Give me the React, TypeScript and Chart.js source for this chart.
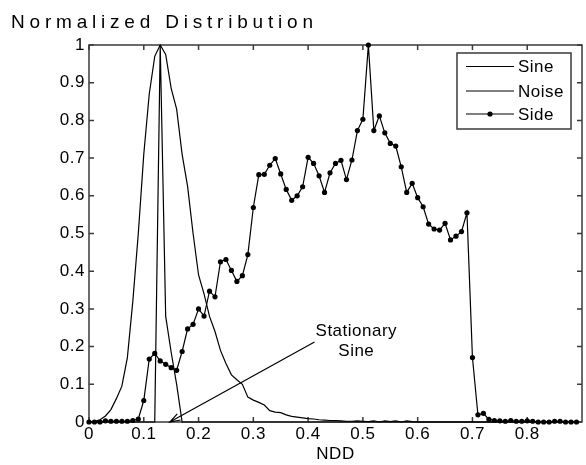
import React, { useEffect, useRef } from 'react';
import { Chart, registerables } from 'chart.js';

Chart.register(...registerables);

// ---------- data ----------
const nddValues = [
  0.00, 0.01, 0.02, 0.03, 0.04, 0.05, 0.06, 0.07, 0.08, 0.09,
  0.10, 0.11, 0.12, 0.13, 0.14, 0.15, 0.16, 0.17, 0.18, 0.19,
  0.20, 0.21, 0.22, 0.23, 0.24, 0.25, 0.26, 0.27, 0.28, 0.29,
  0.30, 0.31, 0.32, 0.33, 0.34, 0.35, 0.36, 0.37, 0.38, 0.39,
  0.40, 0.41, 0.42, 0.43, 0.44, 0.45, 0.46, 0.47, 0.48, 0.49,
  0.50, 0.51, 0.52, 0.53, 0.54, 0.55, 0.56, 0.57, 0.58, 0.59,
  0.60, 0.61, 0.62, 0.63, 0.64, 0.65, 0.66, 0.67, 0.68, 0.69,
  0.70, 0.71, 0.72, 0.73, 0.74, 0.75, 0.76, 0.77, 0.78, 0.79,
  0.80, 0.81, 0.82, 0.83, 0.84, 0.85, 0.86, 0.87, 0.88, 0.89,
];

const sineValues = [
  0, 0, 0, 0, 0, 0, 0, 0, 0, 0,
  0, 0, 0, 1.0, 0.28, 0.185, 0.10, 0, 0, 0,
  0, 0, 0, 0, 0, 0, 0, 0, 0, 0,
  0, 0, 0, 0, 0, 0, 0, 0, 0, 0,
  0, 0, 0, 0, 0, 0, 0, 0, 0, 0,
  0, 0, 0, 0, 0, 0, 0, 0, 0, 0,
  0, 0, 0, 0, 0, 0, 0, 0, 0, 0,
  0, 0, 0, 0, 0, 0, 0, 0, 0, 0,
  0, 0, 0, 0, 0, 0, 0, 0, 0, 0,
];

const noiseValues = [
  0, 0.002, 0.006, 0.016, 0.033, 0.062, 0.095, 0.17, 0.32, 0.50,
  0.71, 0.87, 0.97, 1.0, 0.975, 0.885, 0.83, 0.71, 0.625, 0.50,
  0.39, 0.34, 0.28, 0.24, 0.19, 0.155, 0.125, 0.112, 0.10, 0.066,
  0.058, 0.052, 0.045, 0.030, 0.026, 0.025, 0.019, 0.015, 0.013, 0.011,
  0.009, 0.008, 0.006, 0.005, 0.004, 0.004, 0.003, 0.002, 0.002, 0.003,
  0.002, 0.001, 0.003, 0.0, 0.003, 0.001, 0.003, 0.0, 0.003, 0.001,
  0, 0, 0, 0, 0, 0, 0, 0, 0, 0,
  0, 0, 0, 0, 0, 0, 0, 0, 0, 0,
  0, 0, 0, 0, 0, 0, 0, 0, 0, 0,
];

const sideValues = [
  0, 0, 0, 0.003, 0.002, 0.002, 0.002, 0.002, 0.004, 0.008,
  0.057, 0.167, 0.182, 0.162, 0.153, 0.144, 0.137, 0.187, 0.247, 0.259,
  0.300, 0.281, 0.347, 0.332, 0.425, 0.431, 0.402, 0.373, 0.388, 0.444,
  0.569, 0.656, 0.657, 0.681, 0.699, 0.658, 0.617, 0.588, 0.600, 0.624,
  0.702, 0.686, 0.653, 0.609, 0.661, 0.686, 0.694, 0.643, 0.695, 0.773,
  0.803, 1.0, 0.773, 0.812, 0.767, 0.739, 0.732, 0.677, 0.609, 0.633,
  0.595, 0.571, 0.525, 0.512, 0.509, 0.527, 0.483, 0.493, 0.505, 0.555,
  0.171, 0.019, 0.023, 0.007, 0.004, 0.003, 0.002, 0.004, 0.002, 0.002,
  0.003, 0.002, 0, 0, 0, 0.002, 0.002, 0, 0, 0,
];

const xTickValues = [0, 0.1, 0.2, 0.3, 0.4, 0.5, 0.6, 0.7, 0.8];
const yTickValues = [0, 0.1, 0.2, 0.3, 0.4, 0.5, 0.6, 0.7, 0.8, 0.9, 1];
const seriesNames = ['Sine', 'Noise', 'Side'];
const titleText = 'Normalized Distribution';
const xAxisLabel = 'NDD';
const annotationLines = ['Stationary', 'Sine'];

// ---------- style ----------
const FONT = '"Liberation Sans", Arial, Helvetica, sans-serif';
const AXIS_COLOR = '#3a3a3a';
const TICK_LEN = 5;
const TEXT_SPACING = '0.5px';
const ANNOT = { textX: 0.488, textY1: 0.241, textY2: 0.188, tailX: 0.4117, tailY: 0.212, tipX: 0.1475, tipY: 0 };

const fmt = (v: number) => String(Math.round(v * 10) / 10);

const framePlugin = {
  id: 'matlabFrame',
  beforeDraw(chart: any) {
    const ctx = chart.ctx;
    ctx.save();
    ctx.fillStyle = '#ffffff';
    ctx.fillRect(0, 0, chart.width, chart.height);
    ctx.restore();
    ctx.letterSpacing = TEXT_SPACING;
  },
  beforeDatasetsDraw(chart: any) {
    const { ctx, chartArea: a, scales } = chart;
    const xs = scales.x;
    const ys = scales.y;
    ctx.save();
    ctx.strokeStyle = AXIS_COLOR;
    ctx.lineWidth = 1.5;
    ctx.strokeRect(a.left, a.top, a.right - a.left, a.bottom - a.top);
    ctx.beginPath();
    xs.ticks.forEach((t: any) => {
      const px = xs.getPixelForValue(t.value);
      ctx.moveTo(px, a.bottom);
      ctx.lineTo(px, a.bottom - TICK_LEN);
      ctx.moveTo(px, a.top);
      ctx.lineTo(px, a.top + TICK_LEN);
    });
    ys.ticks.forEach((t: any) => {
      const py = ys.getPixelForValue(t.value);
      ctx.moveTo(a.left, py);
      ctx.lineTo(a.left + TICK_LEN, py);
      ctx.moveTo(a.right, py);
      ctx.lineTo(a.right - TICK_LEN, py);
    });
    ctx.stroke();
    ctx.restore();
  },
  afterDraw(chart: any) {
    const { ctx, chartArea: a, scales } = chart;
    const xs = scales.x;
    const ys = scales.y;

    // title
    ctx.save();
    ctx.fillStyle = '#000';
    ctx.font = `19px ${FONT}`;
    ctx.letterSpacing = '4.8px';
    ctx.textAlign = 'left';
    ctx.textBaseline = 'alphabetic';
    ctx.fillText(titleText, 11, 28);
    ctx.restore();

    // annotation
    ctx.save();
    ctx.letterSpacing = TEXT_SPACING;
    ctx.fillStyle = '#000';
    ctx.font = `17px ${FONT}`;
    ctx.textAlign = 'center';
    ctx.textBaseline = 'middle';
    ctx.fillText(annotationLines[0], xs.getPixelForValue(ANNOT.textX), ys.getPixelForValue(ANNOT.textY1));
    ctx.fillText(annotationLines[1], xs.getPixelForValue(ANNOT.textX), ys.getPixelForValue(ANNOT.textY2));
    const tx = xs.getPixelForValue(ANNOT.tailX);
    const ty = ys.getPixelForValue(ANNOT.tailY);
    const hx = xs.getPixelForValue(ANNOT.tipX);
    const hy = ys.getPixelForValue(ANNOT.tipY);
    ctx.strokeStyle = '#000';
    ctx.lineWidth = 1.2;
    ctx.beginPath();
    ctx.moveTo(tx, ty);
    ctx.lineTo(hx, hy);
    const ang = Math.atan2(ty - hy, tx - hx);
    const L = 11;
    const spread = 0.32;
    ctx.moveTo(hx + L * Math.cos(ang + spread), hy + L * Math.sin(ang + spread));
    ctx.lineTo(hx, hy);
    ctx.lineTo(hx + L * Math.cos(ang - spread), hy + L * Math.sin(ang - spread));
    ctx.stroke();
    ctx.restore();

    // legend
    const boxRight = a.right - 11;
    const boxLeft = boxRight - 114;
    const boxTop = a.top + 8;
    const boxBottom = boxTop + 76;
    const rows = [13.5, 38, 61];
    ctx.save();
    ctx.fillStyle = '#fff';
    ctx.fillRect(boxLeft, boxTop, boxRight - boxLeft, boxBottom - boxTop);
    ctx.strokeStyle = AXIS_COLOR;
    ctx.lineWidth = 1.5;
    ctx.strokeRect(boxLeft, boxTop, boxRight - boxLeft, boxBottom - boxTop);
    ctx.font = `17px ${FONT}`;
    ctx.letterSpacing = TEXT_SPACING;
    ctx.textAlign = 'left';
    ctx.textBaseline = 'middle';
    chart.data.datasets.forEach((ds: any, i: number) => {
      const ry = boxTop + rows[i];
      ctx.strokeStyle = ds.borderColor;
      ctx.lineWidth = ds.borderWidth;
      ctx.beginPath();
      ctx.moveTo(boxLeft + 9, ry);
      ctx.lineTo(boxLeft + 57, ry);
      ctx.stroke();
      if (ds.pointRadius > 0) {
        ctx.fillStyle = ds.pointBackgroundColor;
        ctx.beginPath();
        ctx.arc(boxLeft + 33, ry, ds.pointRadius, 0, Math.PI * 2);
        ctx.fill();
      }
      ctx.fillStyle = '#000';
      ctx.fillText(ds.label, boxLeft + 61, ry + 1);
    });
    ctx.restore();
  },
};

function toPoints(vals: number[]) {
  return nddValues.map((x, i) => ({ x, y: vals[i] }));
}

export default function App() {
  const canvasRef = useRef<HTMLCanvasElement | null>(null);

  useEffect(() => {
    document.body.style.margin = '0';
    const canvas = canvasRef.current;
    if (!canvas) return;
    const chart = new Chart(canvas, {
      type: 'line',
      data: {
        datasets: [
          {
            label: seriesNames[0],
            data: toPoints(sineValues),
            borderColor: '#000',
            borderWidth: 1.2,
            pointRadius: 0,
            tension: 0,
            clip: false,
          } as any,
          {
            label: seriesNames[1],
            data: toPoints(noiseValues),
            borderColor: '#000',
            borderWidth: 1.2,
            pointRadius: 0,
            tension: 0,
            clip: false,
          } as any,
          {
            label: seriesNames[2],
            data: toPoints(sideValues),
            borderColor: '#000',
            borderWidth: 1.2,
            pointRadius: 2.6,
            pointBackgroundColor: '#000',
            pointBorderColor: '#000',
            pointBorderWidth: 0,
            tension: 0,
            clip: false,
          } as any,
        ],
      },
      options: {
        animation: false,
        responsive: false,
        maintainAspectRatio: false,
        devicePixelRatio: 1,
        layout: { padding: { left: 0, right: 3, top: 45, bottom: 0 } },
        plugins: {
          legend: { display: false },
          tooltip: { enabled: false },
          title: { display: false },
        },
        scales: {
          x: {
            type: 'linear',
            min: 0,
            max: 0.9,
            grid: { display: false, drawTicks: false },
            border: { display: false },
            ticks: {
              stepSize: 0.1,
              padding: 2,
              color: '#000',
              autoSkip: false,
              maxRotation: 0,
              font: { family: FONT, size: 17 },
              callback: (v: any) => fmt(Number(v)),
            },
            afterBuildTicks: (s: any) => {
              s.ticks = xTickValues.map((v) => ({ value: v }));
            },
            afterFit: (s: any) => {
              s.height = 43;
            },
            title: {
              display: true,
              text: xAxisLabel,
              color: '#000',
              font: { family: FONT, size: 17 },
              padding: { top: 0, bottom: 0 },
            },
          },
          y: {
            type: 'linear',
            min: 0,
            max: 1,
            grid: { display: false, drawTicks: false },
            border: { display: false },
            ticks: {
              stepSize: 0.1,
              padding: 4,
              color: '#000',
              autoSkip: false,
              font: { family: FONT, size: 17 },
              callback: (v: any) => fmt(Number(v)),
            },
            afterBuildTicks: (s: any) => {
              s.ticks = yTickValues.map((v) => ({ value: v }));
            },
            afterFit: (s: any) => {
              s.width = 89;
            },
          },
        },
      } as any,
      plugins: [framePlugin],
    });
    return () => chart.destroy();
  }, []);

  return (
    <div style={{ width: 586, height: 465 }}>
      <canvas ref={canvasRef} width={586} height={465} style={{ display: 'block' }} />
    </div>
  );
}
